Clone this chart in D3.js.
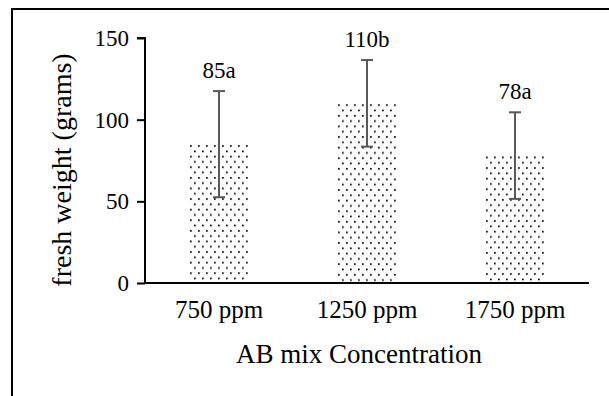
<!DOCTYPE html>
<html>
<head>
<meta charset="utf-8">
<script src="https://cdn.jsdelivr.net/npm/d3@7"></script>
<style>
  body { margin: 0; background: #fff; }
  text { font-family: "Liberation Serif", "Times New Roman", serif; fill: #000; }
</style>
</head>
<body>
<svg id="chart" width="609" height="396"></svg>
<script>
// data
const categories = ["750 ppm", "1250 ppm", "1750 ppm"];
const means = [85, 110, 78];
const errors = [32.5, 26.5, 26.5];
const labels = ["85a", "110b", "78a"];
const yTicks = [0, 50, 100, 150];

const svg = d3.select("#chart");

// outer frame (image is cropped, only left + top visible)
svg.append("rect")
  .attr("x", 12).attr("y", 9)
  .attr("width", 700).attr("height", 500)
  .attr("fill", "none").attr("stroke", "#000").attr("stroke-width", 2);

const plotL = 145, plotR = 589, plotT = 38, plotB = 283;

const x = d3.scaleBand().domain(categories).range([plotL, plotR])
  .paddingInner(0.595).paddingOuter(0.2975);
const y = d3.scaleLinear().domain([0, 150]).range([plotB, plotT]);

const data = categories.map((c, i) => ({ c: c, v: means[i], e: errors[i], l: labels[i] }));

// dotted fill pattern, one per bar so the dots start at the bar's top edge
const defs = svg.append("defs");
data.forEach((d, i) => {
  const pat = defs.append("pattern")
    .attr("id", "dots" + i).attr("patternUnits", "userSpaceOnUse")
    .attr("width", 8).attr("height", 10.6)
    .attr("patternTransform", `translate(${x(d.c)},${y(d.v)})`);
  pat.append("rect").attr("width", 8).attr("height", 10.6).attr("fill", "#fff");
  pat.append("rect").attr("x", 1).attr("y", 1).attr("width", 1.7).attr("height", 1.7).attr("fill", "#000");
  pat.append("rect").attr("x", 5).attr("y", 6.3).attr("width", 1.7).attr("height", 1.7).attr("fill", "#000");
});

svg.selectAll(".bar").data(data).join("rect")
  .attr("class", "bar")
  .attr("x", d => x(d.c))
  .attr("width", x.bandwidth())
  .attr("y", d => y(d.v))
  .attr("height", d => y(0) - y(d.v))
  .attr("fill", (d, i) => `url(#dots${i})`);

// error bars
const cx = d => x(d.c) + x.bandwidth() / 2;
const eb = svg.selectAll(".err").data(data).join("g").attr("class", "err")
  .attr("stroke", "#595959").attr("stroke-width", 2);
eb.append("line")
  .attr("x1", cx).attr("x2", cx)
  .attr("y1", d => y(d.v + d.e)).attr("y2", d => y(d.v - d.e));
eb.append("line")
  .attr("x1", d => cx(d) - 6).attr("x2", d => cx(d) + 6)
  .attr("y1", d => y(d.v + d.e)).attr("y2", d => y(d.v + d.e));
eb.append("line")
  .attr("x1", d => cx(d) - 6).attr("x2", d => cx(d) + 6)
  .attr("y1", d => y(d.v - d.e)).attr("y2", d => y(d.v - d.e));

// value labels
svg.selectAll(".lab").data(data).join("text")
  .attr("class", "lab")
  .attr("x", cx)
  .attr("y", d => y(d.v + d.e) - 13)
  .attr("text-anchor", "middle")
  .style("font-size", "23px")
  .text(d => d.l);

// y axis
const yAxis = svg.append("g").attr("transform", `translate(${plotL},0)`)
  .call(d3.axisLeft(y).tickValues(yTicks).tickSize(8).tickPadding(8));
yAxis.select(".domain").attr("stroke", "#000").attr("stroke-width", 2).attr("d", `M-8,${plotT}H0V${plotB}`);
yAxis.selectAll(".tick line").attr("stroke", "#000").attr("stroke-width", 2);
yAxis.selectAll(".tick text").style("font-size", "23px").attr("font-family", null);

// x axis
const xAxis = svg.append("g").attr("transform", `translate(0,${plotB})`)
  .call(d3.axisBottom(x).tickSize(0).tickPadding(17));
xAxis.select(".domain").attr("stroke", "#000").attr("stroke-width", 2).attr("d", `M${plotL},0H${plotR}`);
xAxis.selectAll(".tick text").style("font-size", "25px").attr("font-family", null);

// axis titles
svg.append("text")
  .attr("x", 359).attr("y", 363)
  .attr("text-anchor", "middle")
  .style("font-size", "27px")
  .text("AB mix Concentration");

svg.append("text")
  .attr("transform", "translate(71,170) rotate(-90)")
  .attr("text-anchor", "middle")
  .style("font-size", "28px")
  .text("fresh weight (grams)");
</script>
</body>
</html>
